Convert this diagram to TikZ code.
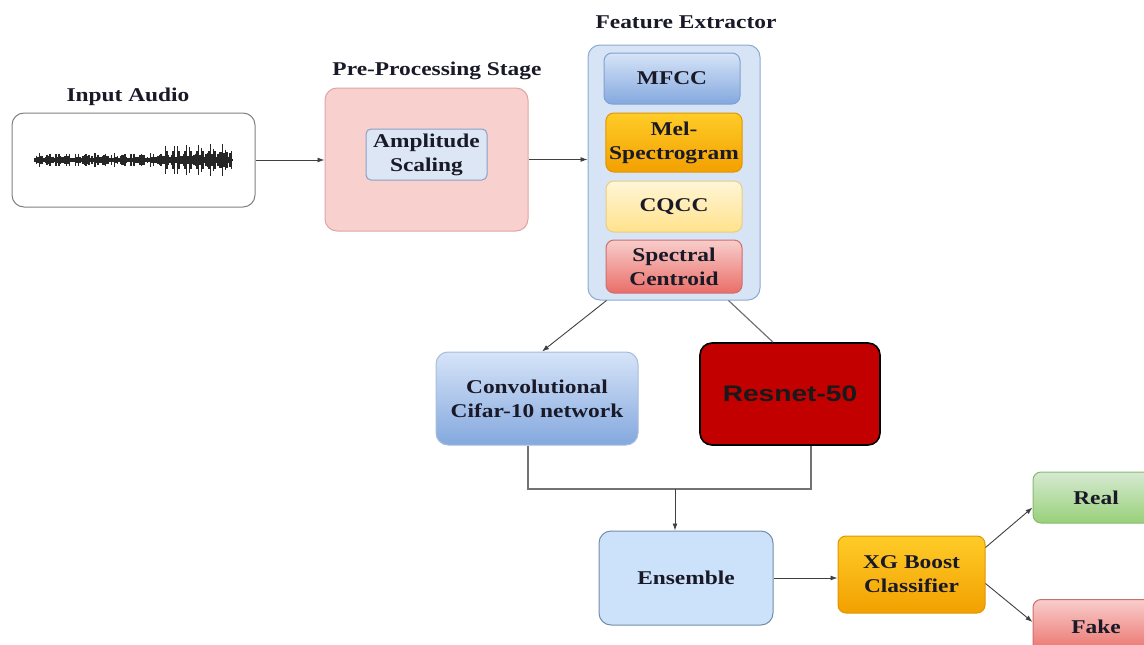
\documentclass[tikz,border=0pt]{standalone}
\usepackage{fontspec}
\setmainfont{Liberation Serif}[FakeStretch=1.2]
\setsansfont{Liberation Sans}[FakeStretch=1.25]
\usetikzlibrary{arrows.meta}

\definecolor{inkcol}{RGB}{25,25,40}
\definecolor{pinkfill}{RGB}{248,208,206}
\definecolor{pinkline}{RGB}{225,165,165}
\definecolor{ampfill}{RGB}{220,230,245}
\definecolor{ampline}{RGB}{140,160,195}
\definecolor{featfill}{RGB}{214,228,246}
\definecolor{featline}{RGB}{140,170,210}
\definecolor{bluetop}{RGB}{214,228,248}
\definecolor{bluebot}{RGB}{132,168,222}
\definecolor{blueline}{RGB}{130,160,205}
\definecolor{orgtop}{RGB}{255,204,40}
\definecolor{orgbot}{RGB}{242,160,0}
\definecolor{orgline}{RGB}{225,150,0}
\definecolor{yeltop}{RGB}{255,246,215}
\definecolor{yelbot}{RGB}{255,226,140}
\definecolor{yelline}{RGB}{232,205,130}
\definecolor{redtop}{RGB}{248,206,204}
\definecolor{redbot}{RGB}{234,110,104}
\definecolor{redline}{RGB}{205,110,110}
\definecolor{grntop}{RGB}{214,234,210}
\definecolor{grnbot}{RGB}{152,208,120}
\definecolor{grnline}{RGB}{135,185,115}
\definecolor{ensfill}{RGB}{204,226,250}
\definecolor{ensline}{RGB}{115,140,170}
\definecolor{resred}{RGB}{194,0,0}

\tikzset{
  box/.style={rounded corners=12pt, line width=1pt, align=center, text=inkcol,
    font=\bfseries\fontsize{19.5}{24}\selectfont},
  title/.style={text=inkcol, font=\bfseries\fontsize{19.5}{24}\selectfont},
  arr/.style={-{Latex[length=7pt,width=5pt]}, line width=0.9pt, draw=black!75},
  link/.style={line width=1.2pt, draw=black!55}
}

\begin{document}
\begin{tikzpicture}[x=1pt,y=-1pt]
    \useasboundingbox (0,0) rectangle (1144,645);
    \clip (0,0) rectangle (1144,645);

    % Input audio with a waveform
    \node[box, draw=black!50, fill=white, minimum width=243pt, minimum height=94pt] (audio) at (133.5,160) {};
    \node[title] (audiolbl) at (128,97) {Input Audio};
    \draw[line width=2.6pt, black!90] (35,160) -- (233,160);
    \foreach \i in {0,...,131} {
        \pgfmathsetmacro\xx{35+1.5*\i}
        \pgfmathsetmacro\hh{\xx<165 ? 2+5*abs(sin(\i*83))*abs(sin(\i*29)) : 3+13*abs(sin(\i*67))*abs(cos(\i*23))}
        \draw[line width=1.3pt, black!85] (\xx,160-\hh) -- (\xx,160+\hh);
    }

    % Pre-processing stage
    \node[box, draw=pinkline, fill=pinkfill, minimum width=203pt, minimum height=143pt] (pre) at (426.5,159.5) {};
    \node[title] (prelbl) at (437,71) {Pre-Processing Stage};
    \node[box, rounded corners=5pt, draw=ampline, fill=ampfill, minimum width=121pt, minimum height=51pt] (amp) at (426.5,154.5) {Amplitude\\Scaling};

    % Feature extractor
    \node[box, draw=featline, fill=featfill, minimum width=172pt, minimum height=255pt] (feat) at (674,172.5) {};
    \node[title] (featlbl) at (686,22) {Feature Extractor};
    \node[box, rounded corners=8pt, draw=blueline, top color=bluetop, bottom color=bluebot, minimum width=136pt, minimum height=51pt] (mfcc) at (672,78.5) {MFCC};
    \node[box, rounded corners=8pt, draw=orgline, top color=orgtop, bottom color=orgbot, minimum width=136pt, minimum height=59pt] (mel) at (674,142.5) {Mel-\\Spectrogram};
    \node[box, rounded corners=8pt, draw=yelline, top color=yeltop, bottom color=yelbot, minimum width=136pt, minimum height=51pt] (cqcc) at (674,206.5) {CQCC};
    \node[box, rounded corners=8pt, draw=redline, top color=redtop, bottom color=redbot, minimum width=136pt, minimum height=53pt] (cent) at (674,266.5) {Spectral\\Centroid};

    % Networks
    \node[box, draw=blueline!70, top color=bluetop, bottom color=bluebot, minimum width=202pt, minimum height=93pt] (conv) at (537,398.5) {Convolutional\\Cifar-10 network};
    \node[box, draw=black, line width=1.6pt, fill=resred, minimum width=180pt, minimum height=102pt, font=\sffamily\bfseries\fontsize{22.5}{26}\selectfont, text=black!90] (res) at (790,394) {Resnet-50};
    \coordinate (join) at (675,489);

    % Ensemble and classifier
    \node[box, draw=ensline, fill=ensfill, minimum width=174pt, minimum height=94pt] (ens) at (686,578) {Ensemble};
    \node[box, rounded corners=8pt, draw=orgline, top color=orgtop, bottom color=orgbot, minimum width=147pt, minimum height=77pt] (xg) at (911.5,574.5) {XG Boost\\Classifier};
    \node[box, rounded corners=8pt, draw=grnline, top color=grntop, bottom color=grnbot, minimum width=126pt, minimum height=51pt] (real) at (1096,497.5) {Real};
    \node[box, rounded corners=8pt, draw=redline, top color=redtop, bottom color=redbot, minimum width=126pt, minimum height=55pt] (fake) at (1096,627) {Fake};

    % Connectors
    \draw[arr] (audio.east) -- (pre.west |- audio.east);
    \draw[arr] (pre.east) -- (feat.west |- pre.east);
    \draw[arr] ([xshift=19pt]feat.south west) -- ([xshift=5pt]conv.north);
    \draw[link] ([xshift=-32pt]feat.south east) -- ([xshift=-17pt]res.north);
    \draw[link] ([xshift=-9pt]conv.south) |- (join) -| ([xshift=21pt]res.south);
    \draw[arr] (join) -- (ens.north -| join);
    \draw[arr] (ens.east) -- (xg.west |- ens.east);
    \draw[arr] ([yshift=-12pt]xg.north east) -- ([yshift=16pt]real.south west);
    \draw[arr] ([yshift=-9pt]xg.east) -- ([yshift=5pt]fake.west);
\end{tikzpicture}
\end{document}
